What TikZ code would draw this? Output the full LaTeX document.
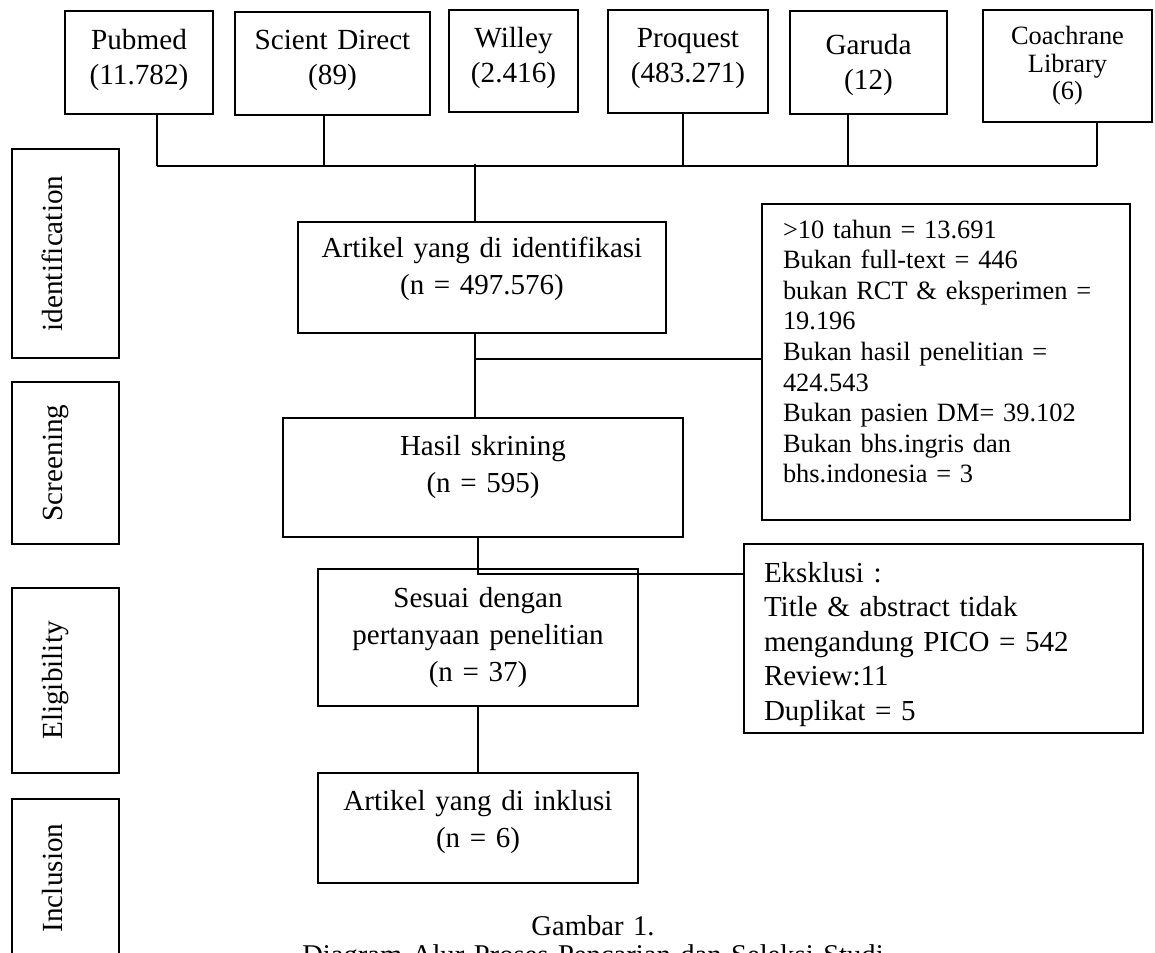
\documentclass[tikz,border=0pt]{standalone}
\usepackage{fontspec}
\setmainfont{Liberation Serif}
\usepackage{tikz}

\begin{document}
\begin{tikzpicture}[x=0.5pt,y=-0.5pt,line width=0.65pt,
box/.style={draw,inner sep=0pt,anchor=base,align=center},
src/.style={box,font=\fontsize{14.6}{17.5}\selectfont},
stage/.style={box,rotate=90,font=\fontsize{14.6}{17}\selectfont,text height=25pt,text depth=28.5pt},
main/.style={box,font=\fontsize{14.5}{18.5}\selectfont},
excl/.style={box,align=left}]
\useasboundingbox (0,0) rectangle (1155,952);
\clip (0,0) rectangle (1155,952);

\node (db1) at (139,50) [src,text width=74pt,text height=19.5pt,text depth=32pt] {Pubmed\\(11.782)};
\node (db2) at (332.5,50) [src,text width=97.5pt,text height=19pt,text depth=32.5pt] {Scient Direct\\(89)};
\node (db3) at (513.5,48) [src,text width=64.5pt,text height=19pt,text depth=32pt] {Willey\\(2.416)};
\node (db4) at (688,48) [src,text width=80pt,text height=19pt,text depth=32.5pt] {Proquest\\(483.271)};
\node (db5) at (868.5,55) [src,text width=78.5pt,text height=22pt,text depth=29.5pt,line width=0.9pt] {Garuda\\(12)};
\node (db6) at (1067.5,45) [src,text width=84.5pt,text height=17.5pt,text depth=38.5pt,line width=0.9pt,font=\fontsize{13.2}{13.75}\selectfont] {Coachrane\\Library\\(6)};

\node (ph1) at (62,253.5) [stage,text width=104.5pt] {identification};
\node (ph2) at (62,463) [stage,text width=81pt] {Screening};
\node (ph3) at (62,680.5) [stage,text width=92.5pt] {Eligibility};
\node (ph4) at (62,878) [stage,text width=79pt] {Inclusion};

\node (n1) at (482,257) [main,text width=184pt,text height=17.5pt,text depth=38pt] {Artikel yang di identifikasi\\(n = 497.576)};
\node (n2) at (483,455) [main,text width=200pt,text height=18.5pt,text depth=41pt] {Hasil skrining\\(n = 595)};
\node (n3) at (478,607) [main,text width=160pt,text height=19pt,text depth=49.5pt,line width=0.9pt] {Sesuai dengan\\pertanyaan penelitian\\(n = 37)};
\node (n4) at (478,810) [main,text width=160pt,text height=18.5pt,text depth=36.5pt] {Artikel yang di inklusi\\(n = 6)};

\node (ex1) at (946,238) [excl,text width=163pt,inner xsep=10.5pt,text height=17pt,text depth=141pt,font=\fontsize{13.2}{15.3}\selectfont] {>10 tahun = 13.691\\Bukan full-text = 446\\bukan RCT \& eksperimen =\\19.196\\Bukan hasil penelitian =\\424.543\\Bukan pasien DM= 39.102\\Bukan bhs.ingris dan\\bhs.indonesia = 3};
\node (ex2) at (943.5,582) [excl,text width=179.5pt,inner xsep=10pt,text height=19pt,text depth=75.5pt,line width=0.9pt,font=\fontsize{14.5}{17.25}\selectfont] {Eksklusi :\\Title \& abstract tidak\\mengandung PICO = 542\\Review:11\\Duplikat = 5};

\node (cap) at (593,935) [anchor=base,align=center,text width=300pt,font=\fontsize{14.3}{14.5}\selectfont] {Gambar 1.\\Diagram Alur Proses Pencarian dan Seleksi Studi};

\coordinate (c1) at (157,166);
\coordinate (c2) at (324,166);
\coordinate (c4) at (683,166);
\coordinate (c5) at (848,166);
\coordinate (c6) at (1097,166);
\coordinate (hub) at (475,164);
\coordinate (j1) at (475,359);
\coordinate (j2) at (478,574);

\draw (c1) edge (c6);
\draw (db1.south -| c1) edge (c1);
\draw (db2.south -| c2) edge (c2);
\draw (db4.south -| c4) edge (c4);
\draw (db5.south -| c5) edge (c5);
\draw (db6.south -| c6) edge (c6);
\draw (hub) edge (n1.north -| hub);
\draw (n1.south -| j1) edge (j1);
\draw (j1) edge (n2.north -| j1);
\draw (j1) edge (ex1.west |- j1);
\draw (n2.south -| j2) -- (j2) -- (ex2.west |- j2);
\draw (n3.south) edge (n4.north);

\end{tikzpicture}
\end{document}
